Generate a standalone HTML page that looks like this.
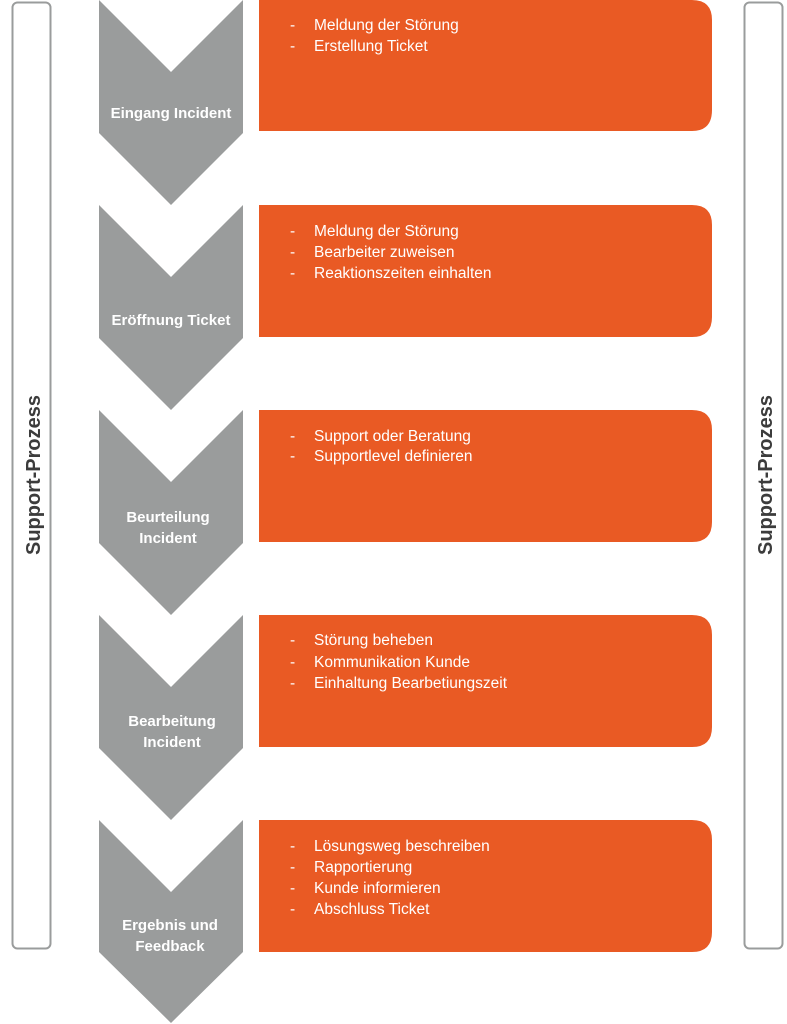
<!DOCTYPE html>
<html><head><meta charset="utf-8"><style>
html,body{margin:0;padding:0;background:#fff;}
svg{display:block}
text{font-family:"Liberation Sans",sans-serif;}
</style></head><body>
<svg width="787" height="1024" viewBox="0 0 787 1024" xmlns="http://www.w3.org/2000/svg">
<rect x="12.5" y="2.5" width="38" height="946" rx="5" fill="#fff" stroke="#9a9c9c" stroke-width="2"/>
<rect x="744.5" y="2.5" width="38" height="946" rx="5" fill="#fff" stroke="#9a9c9c" stroke-width="2"/>
<text transform="translate(40,475) rotate(-90)" text-anchor="middle" font-size="20" font-weight="bold" fill="#3c3c3c">Support-Prozess</text>
<text transform="translate(772,475) rotate(-90)" text-anchor="middle" font-size="20" font-weight="bold" fill="#3c3c3c">Support-Prozess</text>
<g fill="#9a9c9c">
<polygon points="99,0 171,72 243,0 243,133 171,205 99,133"/>
<polygon points="99,205 171,277 243,205 243,338 171,410 99,338"/>
<polygon points="99,410 171,482 243,410 243,543 171,615 99,543"/>
<polygon points="99,615 171,687 243,615 243,748 171,820 99,748"/>
<polygon points="99,820 171,892 243,820 243,952 171,1023 99,952"/>
</g>
<g fill="#e95a24">
<path d="M259,0 H692 Q712,0 712,20 V110 Q712,131 692,131 H259 Z"/>
<path d="M259,205 H692 Q712,205 712,225 V317 Q712,337 692,337 H259 Z"/>
<path d="M259,410 H692 Q712,410 712,430 V522 Q712,542 692,542 H259 Z"/>
<path d="M259,615 H692 Q712,615 712,635 V727 Q712,747 692,747 H259 Z"/>
<path d="M259,820 H692 Q712,820 712,840 V932 Q712,952 692,952 H259 Z"/>
</g>
<g fill="#fff" font-size="15" font-weight="bold" text-anchor="middle">
<text x="171" y="118">Eingang Incident</text>
<text x="171" y="325">Eröffnung Ticket</text>
<text x="168" y="522">Beurteilung</text><text x="168" y="543">Incident</text>
<text x="172" y="726">Bearbeitung</text><text x="172" y="747">Incident</text>
<text x="170" y="930">Ergebnis und</text><text x="170" y="951">Feedback</text>
</g>
<g fill="#fff" font-size="15.5">
<text x="290" y="30">-</text><text x="314" y="30">Meldung der Störung</text>
<text x="290" y="51">-</text><text x="314" y="51">Erstellung Ticket</text>
<text x="290" y="236">-</text><text x="314" y="236">Meldung der Störung</text>
<text x="290" y="257">-</text><text x="314" y="257">Bearbeiter zuweisen</text>
<text x="290" y="278">-</text><text x="314" y="278">Reaktionszeiten einhalten</text>
<text x="290" y="441">-</text><text x="314" y="441">Support oder Beratung</text>
<text x="290" y="461">-</text><text x="314" y="461">Supportlevel definieren</text>
<text x="290" y="645">-</text><text x="314" y="645">Störung beheben</text>
<text x="290" y="667">-</text><text x="314" y="667">Kommunikation Kunde</text>
<text x="290" y="688">-</text><text x="314" y="688">Einhaltung Bearbetiungszeit</text>
<text x="290" y="851">-</text><text x="314" y="851">Lösungsweg beschreiben</text>
<text x="290" y="872">-</text><text x="314" y="872">Rapportierung</text>
<text x="290" y="893">-</text><text x="314" y="893">Kunde informieren</text>
<text x="290" y="914">-</text><text x="314" y="914">Abschluss Ticket</text>
</g>
</svg>
</body></html>
